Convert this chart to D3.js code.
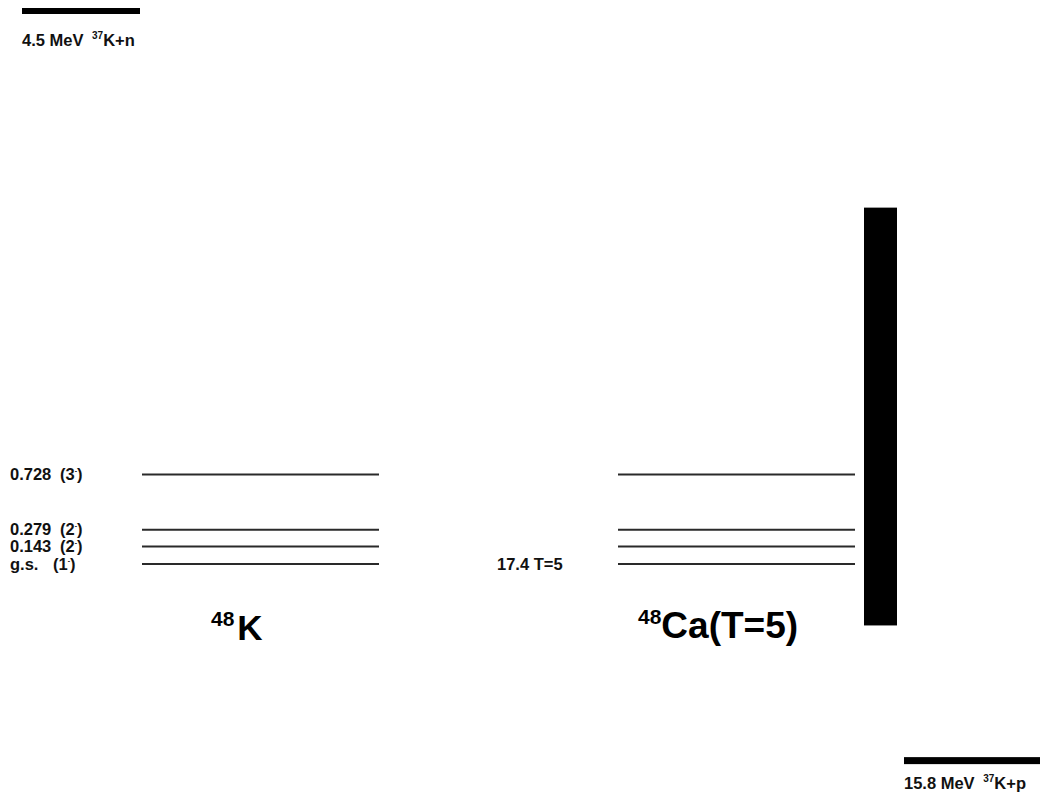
<!DOCTYPE html>
<html>
<head>
<meta charset="utf-8">
<script src="https://cdn.jsdelivr.net/npm/d3@7"></script>
<style>
  body { margin: 0; background: #fff; }
  svg { display: block; font-family: "Liberation Sans", Arial, sans-serif; font-weight: bold; }
</style>
</head>
<body>
<svg id="chart" width="1040" height="795"></svg>
<script>
// 48K levels (MeV, relative to ground state)
const kEnergies = [0, 0.143, 0.279, 0.728];
const kLabels = ['g.s.', '0.143', '0.279', '0.728'];
const kSpins = ['1', '2', '2', '3'];

// 48Ca T=5 analog states (excitation energy in MeV)
const caEnergies = [17.4, 17.543, 17.679, 18.128];
const caBase = 17.4;
const caBaseLabel = '17.4 T=5';

// thresholds
const nThreshold = 4.5;   // 37K+n, relative to 48K g.s.
const pThreshold = 15.8;  // 37K+p, in 48Ca excitation
const boxRange = [16.9, 20.3]; // black band, 48Ca excitation

const svg = d3.select('#chart');

const y = d3.scaleLinear()
  .domain([0, nThreshold])
  .range([564, 11]);

const x = d3.scaleOrdinal()
  .domain(['k', 'ca', 'box'])
  .range([142, 618, 864]);
const levelWidth = 237;

const levelColor = '#2a2a2a';

// 48K levels
svg.append('g').selectAll('line')
  .data(kEnergies)
  .enter().append('line')
  .attr('x1', x('k'))
  .attr('x2', x('k') + levelWidth)
  .attr('y1', (d) => y(d))
  .attr('y2', (d) => y(d))
  .attr('stroke', levelColor)
  .attr('stroke-width', 2);

const lab = svg.append('g').attr('font-size', 16.5).attr('fill', '#111');
lab.selectAll('text.e')
  .data(kEnergies)
  .enter().append('text')
  .attr('class', 'e')
  .attr('x', 10)
  .attr('y', (d) => y(d) + 5.5)
  .text((d, i) => kLabels[i]);

const spin = lab.selectAll('text.s')
  .data(kEnergies)
  .enter().append('text')
  .attr('class', 's')
  .attr('x', (d, i) => i === 0 ? 53 : 60)
  .attr('y', (d) => y(d) + 5.5);
spin.append('tspan').text((d, i) => '(' + kSpins[i]);
spin.append('tspan').attr('font-size', 7).attr('dy', -7).text('-');
spin.append('tspan').attr('dy', 7).text(')');

// 48Ca analog levels
svg.append('g').selectAll('line')
  .data(caEnergies)
  .enter().append('line')
  .attr('x1', x('ca'))
  .attr('x2', x('ca') + levelWidth)
  .attr('y1', (d) => y(d - caBase))
  .attr('y2', (d) => y(d - caBase))
  .attr('stroke', levelColor)
  .attr('stroke-width', 2);

lab.append('text')
  .attr('x', 497)
  .attr('y', y(0) + 5.5)
  .text(caBaseLabel);

// black band
svg.append('rect')
  .attr('x', x('box'))
  .attr('width', 33)
  .attr('y', y(boxRange[1] - caBase))
  .attr('height', y(boxRange[0] - caBase) - y(boxRange[1] - caBase))
  .attr('fill', '#000');

// thresholds
svg.append('rect')
  .attr('x', 22).attr('width', 118)
  .attr('y', y(nThreshold) - 3).attr('height', 6)
  .attr('fill', '#000');
const tn = lab.append('text').attr('x', 22).attr('y', y(nThreshold) + 35);
tn.append('tspan').text(nThreshold + ' MeV ');
tn.append('tspan').attr('font-size', 10).attr('dx', 4).attr('dy', -7).text('37');
tn.append('tspan').attr('dy', 7).text('K+n');

svg.append('rect')
  .attr('x', 904).attr('width', 136)
  .attr('y', y(pThreshold - caBase) - 3.5).attr('height', 7)
  .attr('fill', '#000');
const tp = lab.append('text').attr('x', 904).attr('y', y(pThreshold - caBase) + 28);
tp.append('tspan').text(pThreshold + ' MeV ');
tp.append('tspan').attr('font-size', 10).attr('dx', 4).attr('dy', -7).text('37');
tp.append('tspan').attr('dy', 7).text('K+p');

// nucleus names
const nk = svg.append('text').attr('x', 211).attr('y', 640).attr('font-size', 35).attr('fill', '#000');
nk.append('tspan').attr('font-size', 21).attr('dy', -14).text('48');
nk.append('tspan').attr('dx', 3).attr('dy', 14).text('K');

const nc = svg.append('text').attr('x', 638).attr('y', 638).attr('font-size', 37).attr('fill', '#000');
nc.append('tspan').attr('font-size', 21).attr('dy', -14).text('48');
nc.append('tspan').attr('dy', 14).text('Ca(T=5)');
</script>
</body>
</html>
